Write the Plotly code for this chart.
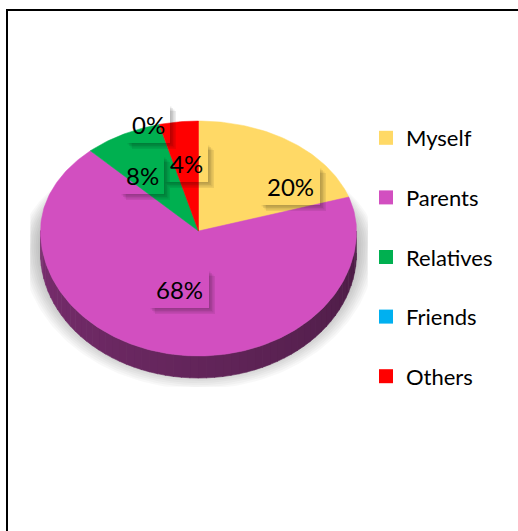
import numpy as np
import plotly.graph_objects as go

# ---- data -------------------------------------------------------------
categories = ["Myself", "Parents", "Relatives", "Friends", "Others"]
shares = [20, 68, 8, 0, 4]
colors = ["#FFD966", "#D24FC0", "#00B050", "#00B0F0", "#FF0000"]

# label centres (pixel space) for the percentage tags
label_xy = [(290, 186), (179, 289), (142, 175), (148, 124), (186, 163)]

# ---- pie geometry (pixel space: x right, y down) ------------------------
W, H = 518, 531
CX, CY = 198.5, 231.0
RX = 158.0
RY_BACK, RY_FRONT = 110.0, 125.0   # slight perspective: front half is taller
DEPTH = 22.0
FONT = "Lato"


def rim(t, dy=0.0, grow=0.0, back_shrink=0.0):
    """Point on the pie rim; t is clockwise from 12 o'clock (radians)."""
    s, c = np.sin(t), np.cos(t)
    ry = np.where(c > 0, RY_BACK - back_shrink, RY_FRONT + grow)
    return CX + (RX + grow) * s, CY - ry * c + dy


def hex_rgb(h):
    h = h.lstrip("#")
    return tuple(int(h[i:i + 2], 16) for i in (0, 2, 4))


def shade(h, f):
    r, g, b = hex_rgb(h)
    return f"rgb({int(r * f)},{int(g * f)},{int(b * f)})"


def rect_path(x0, y0, x1, y1):
    return f"M{x0},{y0} L{x1},{y0} L{x1},{y1} L{x0},{y1} Z"


fig = go.Figure()

# ---- soft drop shadow under the disc -------------------------------------
tt = np.linspace(0, 2 * np.pi, 241)
for k in range(10):
    g = 1 + 2.0 * k
    sx, sy = rim(tt, dy=DEPTH * 0.55 + 2, grow=g, back_shrink=18 - g * 0.4)
    sx = np.clip(sx, 30, 368)
    sy = np.clip(sy, 0, 387)
    fig.add_trace(go.Scatter(
        x=sx, y=sy, mode="lines", fill="toself",
        fillcolor="rgba(0,0,0,0.026)", line=dict(width=0),
        hoverinfo="skip", showlegend=False))

# ---- slice angles ---------------------------------------------------------
total = float(sum(shares))
edges = np.concatenate([[0.0], np.cumsum(shares)]) / total * 2 * np.pi

# ---- side wall (only the front half, 90..270 degrees, is visible) -------
FRONT0, FRONT1 = np.pi / 2, 3 * np.pi / 2
for i, col in enumerate(colors):
    a0, a1 = max(edges[i], FRONT0), min(edges[i + 1], FRONT1)
    if a1 <= a0:
        continue
    n_seg = max(2, int(np.degrees(a1 - a0) / 3))
    cuts = np.linspace(a0, a1, n_seg + 1)
    for j in range(n_seg):
        t = np.linspace(cuts[j], cuts[j + 1] + 0.004, 6)
        xt, yt = rim(t)
        xb, yb = rim(t[::-1], dy=DEPTH)
        # lighter on the left (270 deg), darker on the right (90 deg)
        mid = 0.5 * (cuts[j] + cuts[j + 1])
        frac = (mid - FRONT0) / (FRONT1 - FRONT0)
        f = 0.36 + 0.22 * frac
        c = shade(col, f)
        fig.add_trace(go.Scatter(
            x=np.concatenate([xt, xb]), y=np.concatenate([yt, yb]),
            mode="lines", fill="toself", fillcolor=c,
            line=dict(width=0.6, color=c),
            hoverinfo="skip", showlegend=False))

# ---- top face wedges ------------------------------------------------------
for i, (name, col) in enumerate(zip(categories, colors)):
    a0, a1 = edges[i], edges[i + 1]
    if a1 <= a0:
        continue
    n = max(4, int(np.degrees(a1 - a0)))
    t = np.linspace(a0, a1, n)
    xr, yr = rim(t)
    fig.add_trace(go.Scatter(
        x=np.concatenate([[CX], xr, [CX]]),
        y=np.concatenate([[CY], yr, [CY]]),
        mode="lines", fill="toself", fillcolor=col,
        line=dict(width=0.5, color=col),
        hoverinfo="skip", showlegend=False))

# ---- legend entries ------------------------------------------------------
for i, (name, col) in enumerate(zip(categories, colors)):
    fig.add_trace(go.Scatter(
        x=[None], y=[None], mode="markers", name=name,
        marker=dict(symbol="square", size=14, color=col),
        legendgroup=f"g{i}", showlegend=True))

# ---- percentage tags with drop shadows (right / bottom only) --------------
shapes = []
annotations = []
for v, (lx, ly) in zip(shares, label_xy):
    txt = f"{v / total * 100:.0f}%"
    bw = 16 * len(txt) + 12
    bh = 38
    bx0, bx1 = lx - bw / 2, lx + bw / 2
    by0, by1 = ly - bh / 2, ly + bh / 2
    for off in (1.5, 3.0, 4.5, 6.0):
        outer = rect_path(bx0 + off, by0 + off, bx1 + off, by1 + off)
        # cut out the part hidden behind the tag itself
        inner = rect_path(bx0 + off, by0 + off, bx1, by1)
        shapes.append(dict(
            type="path", path=outer + " " + inner, xref="x", yref="y",
            fillcolor="rgba(0,0,0,0.075)", line=dict(width=0),
            fillrule="evenodd", layer="above"))
    annotations.append(dict(
        x=lx, y=ly, xref="x", yref="y", text=txt, showarrow=False,
        font=dict(family=FONT, size=24, color="#000000"),
        xanchor="center", yanchor="middle"))

# outer chart frame
shapes.append(dict(
    type="rect", xref="x", yref="y", x0=7, y0=10, x1=540, y1=560,
    line=dict(color="#000000", width=2), fillcolor="rgba(0,0,0,0)",
    layer="above"))

fig.update_layout(
    width=W, height=H,
    margin=dict(l=0, r=0, t=0, b=0),
    paper_bgcolor="#FFFFFF", plot_bgcolor="#FFFFFF",
    xaxis=dict(range=[0, W], visible=False, fixedrange=True),
    yaxis=dict(range=[H, 0], visible=False, fixedrange=True),
    shapes=shapes, annotations=annotations,
    showlegend=True,
    legend=dict(
        x=(406 - 40) / W, y=1 - 117 / H, xanchor="left", yanchor="top",
        font=dict(family=FONT, size=22, color="#000000"),
        tracegroupgap=28, bgcolor="rgba(0,0,0,0)", borderwidth=0,
        itemclick=False, itemdoubleclick=False),
    hovermode=False,
)

fig.write_html("out.html")
